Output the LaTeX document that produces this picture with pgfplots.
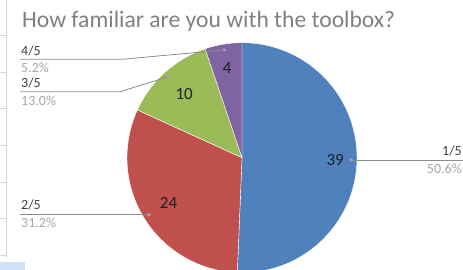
\documentclass[border=0pt]{standalone}
\usepackage{pgfplots}
\pgfplotsset{compat=1.18}
\usepackage{pgfplotstable}
\usepackage{fontspec}
\setmainfont{Carlito}
\pgfkeys{/pgf/number format/assume math mode=true}
\definecolor{cA}{HTML}{4F81BD}
\definecolor{cB}{HTML}{C0504D}
\definecolor{cC}{HTML}{9BBB59}
\definecolor{cD}{HTML}{8064A2}
\definecolor{titlegray}{HTML}{808080}
\definecolor{labdark}{HTML}{404040}
\definecolor{pctgray}{HTML}{A6A6A6}
\definecolor{leadgray}{HTML}{8C8C8C}
\definecolor{gridgray}{HTML}{D4D4D4}
\definecolor{selblue}{HTML}{CFE2F3}

\pgfplotstableread{
label value frac
1/5   39    0.81
2/5   24    0.75
3/5   10    0.75
4/5   4     0.79
}\piedata

\newcommand{\cx}{242}
\newcommand{\cy}{112.3}
\newcommand{\rr}{115}
\newcommand{\piewedge}[3]{%
  \fill[#1, draw=white, line width=0.4pt] (axis cs:\cx,\cy) -- (axis cs:{\cx+\rr*cos(#2)},{\cy+\rr*sin(#2)}) arc[start angle=#2, end angle=#3, radius=\rr pt] -- cycle;}

\begin{document}
\begin{tikzpicture}
\path[use as bounding box] (0,0) rectangle (463pt,270pt);
\clip (0,0) rectangle (463pt,270pt);

% read values
\pgfplotstablegetelem{0}{value}\of\piedata \edef\vA{\pgfplotsretval}
\pgfplotstablegetelem{1}{value}\of\piedata \edef\vB{\pgfplotsretval}
\pgfplotstablegetelem{2}{value}\of\piedata \edef\vC{\pgfplotsretval}
\pgfplotstablegetelem{3}{value}\of\piedata \edef\vD{\pgfplotsretval}
\pgfplotstablegetelem{0}{frac}\of\piedata \edef\fA{\pgfplotsretval}
\pgfplotstablegetelem{1}{frac}\of\piedata \edef\fB{\pgfplotsretval}
\pgfplotstablegetelem{2}{frac}\of\piedata \edef\fC{\pgfplotsretval}
\pgfplotstablegetelem{3}{frac}\of\piedata \edef\fD{\pgfplotsretval}
\pgfmathsetmacro\tot{\vA+\vB+\vC+\vD}
\pgfmathsetmacro\aA{90}
\pgfmathsetmacro\aB{\aA-360*\vA/\tot}
\pgfmathsetmacro\aC{\aB-360*\vB/\tot}
\pgfmathsetmacro\aD{\aC-360*\vC/\tot}
\pgfmathsetmacro\aE{\aD-360*\vD/\tot}
\pgfmathsetmacro\mA{(\aA+\aB)/2}
\pgfmathsetmacro\mB{(\aB+\aC)/2}
\pgfmathsetmacro\mC{(\aC+\aD)/2}
\pgfmathsetmacro\mD{(\aD+\aE)/2}
\pgfmathsetmacro\pA{100*\vA/\tot}
\pgfmathsetmacro\pB{100*\vB/\tot}
\pgfmathsetmacro\pC{100*\vC/\tot}
\pgfmathsetmacro\pD{100*\vD/\tot}

% spreadsheet artefacts at left
\draw[gridgray, line width=0.8pt] (6pt,270pt) -- (6pt,12pt);
\foreach \yy in {35,72,108,145,182,218,255}{
  \draw[gridgray, line width=0.8pt] (0pt,270pt-\yy pt) -- (6pt,270pt-\yy pt);
}
\fill[selblue] (0pt,0pt) rectangle (25pt,8pt);

\begin{axis}[
  at={(0pt,0pt)}, anchor=south west,
  x=1pt, y=1pt,
  xmin=0, xmax=463, ymin=0, ymax=270,
  hide axis, scale only axis,
  clip=true,
]
\piewedge{cA}{\aA}{\aB}
\piewedge{cB}{\aB}{\aC}
\piewedge{cC}{\aC}{\aD}
\piewedge{cD}{\aD}{\aE}

% values inside slices
\node[font=\fontsize{17}{17}\selectfont, text=black!88, inner sep=0] at (axis cs:{\cx+\fA*\rr*cos(\mA)},{\cy+\fA*\rr*sin(\mA)}) {\pgfmathprintnumber[fixed,precision=0]{\vA}};
\node[font=\fontsize{17}{17}\selectfont, text=black!88, inner sep=0] at (axis cs:{\cx+\fB*\rr*cos(\mB)},{\cy+\fB*\rr*sin(\mB)}) {\pgfmathprintnumber[fixed,precision=0]{\vB}};
\node[font=\fontsize{17}{17}\selectfont, text=black!88, inner sep=0] at (axis cs:{\cx+\fC*\rr*cos(\mC)},{\cy+\fC*\rr*sin(\mC)}) {\pgfmathprintnumber[fixed,precision=0]{\vC}};
\node[font=\fontsize{17}{17}\selectfont, text=black!88, inner sep=0] at (axis cs:{\cx+\fD*\rr*cos(\mD)},{\cy+\fD*\rr*sin(\mD)}) {\pgfmathprintnumber[fixed,precision=0]{\vD}};

% leader lines
\draw[leadgray, line width=0.8pt] (axis cs:{\cx+0.95*\rr*cos(\mA)},{\cy+0.95*\rr*sin(\mA)}) -- (axis cs:463,{\cy+0.95*\rr*sin(\mA)});
\draw[leadgray, line width=0.8pt] (axis cs:{\cx+0.95*\rr*cos(\mB)},{\cy+0.95*\rr*sin(\mB)}) -- (axis cs:20,{\cy+0.95*\rr*sin(\mB)});
\draw[leadgray, line width=0.8pt] (axis cs:{\cx+0.95*\rr*cos(\mC)},{\cy+0.95*\rr*sin(\mC)}) -- (axis cs:120,178.3) -- (axis cs:20,178.3);
\draw[leadgray, line width=0.8pt] (axis cs:{\cx+0.95*\rr*cos(\mD)},{\cy+0.95*\rr*sin(\mD)}) -- (axis cs:122,210.7) -- (axis cs:20,210.7);
\fill[pctgray] (axis cs:{\cx+0.95*\rr*cos(\mA)},{\cy+0.95*\rr*sin(\mA)}) circle[radius=1.8pt];
\fill[pctgray] (axis cs:{\cx+0.95*\rr*cos(\mB)},{\cy+0.95*\rr*sin(\mB)}) circle[radius=1.8pt];
\fill[pctgray] (axis cs:{\cx+0.95*\rr*cos(\mC)},{\cy+0.95*\rr*sin(\mC)}) circle[radius=1.8pt];
\fill[pctgray] (axis cs:{\cx+0.95*\rr*cos(\mD)},{\cy+0.95*\rr*sin(\mD)}) circle[radius=1.8pt];

% category labels and percentages
\node[font=\fontsize{14}{14}\selectfont, text=labdark, anchor=base east, inner sep=0] at (axis cs:462,114) {1/5};
\node[font=\fontsize{14}{14}\selectfont, text=pctgray, anchor=base east, inner sep=0] at (axis cs:462,96) {\pgfmathprintnumber[fixed,fixed zerofill,precision=1]{\pA}\%};
\node[font=\fontsize{14}{14}\selectfont, text=labdark, anchor=base west, inner sep=0] at (axis cs:21,60) {2/5};
\node[font=\fontsize{14}{14}\selectfont, text=pctgray, anchor=base west, inner sep=0] at (axis cs:21,42) {\pgfmathprintnumber[fixed,fixed zerofill,precision=1]{\pB}\%};
\node[font=\fontsize{14}{14}\selectfont, text=labdark, anchor=base west, inner sep=0] at (axis cs:21,182.5) {3/5};
\node[font=\fontsize{14}{14}\selectfont, text=pctgray, anchor=base west, inner sep=0] at (axis cs:21,164) {\pgfmathprintnumber[fixed,fixed zerofill,precision=1]{\pC}\%};
\node[font=\fontsize{14}{14}\selectfont, text=labdark, anchor=base west, inner sep=0] at (axis cs:21,214.5) {4/5};
\node[font=\fontsize{14}{14}\selectfont, text=pctgray, anchor=base west, inner sep=0] at (axis cs:21,197) {\pgfmathprintnumber[fixed,fixed zerofill,precision=1]{\pD}\%};

% title
\node[font=\fontsize{23.6}{23.6}\selectfont, text=titlegray, anchor=base west, inner sep=0] at (axis cs:22,242) {How familiar are you with the toolbox?};
\end{axis}
\end{tikzpicture}
\end{document}
